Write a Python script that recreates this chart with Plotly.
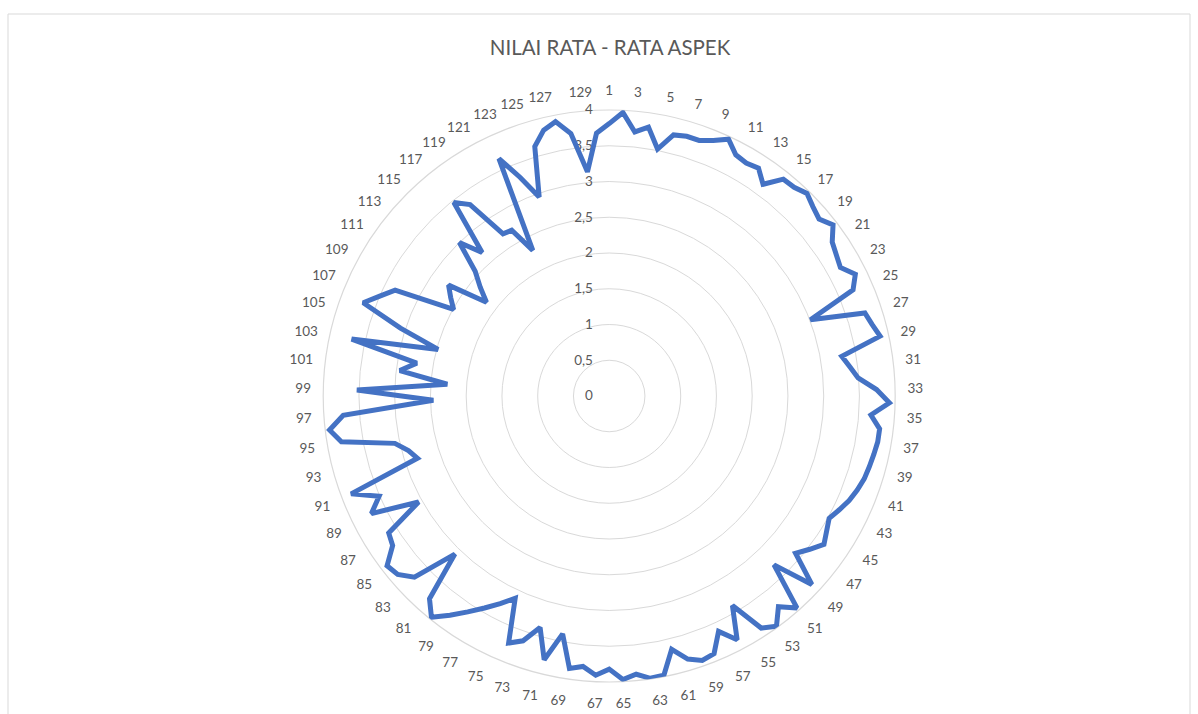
import plotly.graph_objects as go

categories = [str(i) for i in range(1, 131)]

values = [
    3.81, 3.97, 3.71, 3.80, 3.52, 3.76, 3.79, 3.79, 3.86, 3.96,   # 1-10
    3.81, 3.78, 3.81, 3.66, 3.89, 3.90, 3.96, 3.89, 3.84, 3.94,   # 11-20
    3.79, 3.74, 3.70, 3.84, 3.72, 3.01, 3.76, 3.81, 3.88, 3.30,   # 21-30
    3.39, 3.49, 3.74, 3.92, 3.67, 3.81, 3.81, 3.79, 3.77, 3.75,   # 31-40
    3.71, 3.66, 3.59, 3.52, 3.58, 3.65, 3.53, 3.41, 3.87, 3.30,   # 41-50
    3.96, 3.78, 3.98, 3.88, 3.40, 3.85, 3.63, 3.89, 3.92, 3.84,   # 51-60
    3.65, 3.98, 3.99, 3.91, 3.97, 3.82, 3.91, 3.80, 3.85, 3.39,   # 61-70
    3.80, 3.38, 3.63, 3.73, 3.12, 3.28, 3.44, 3.61, 3.79, 3.97,   # 71-80
    3.79, 3.09, 3.72, 3.87, 3.91, 3.68, 3.63, 3.05, 3.71, 3.51,   # 81-90
    3.86, 2.82, 2.91, 3.07, 3.80, 3.94, 3.73, 2.46, 3.53, 2.27,   # 91-100
    2.95, 2.73, 3.69, 2.48, 3.07, 3.68, 3.50, 3.34, 2.49, 2.61,   # 101-110
    2.73, 2.16, 2.36, 2.56, 3.00, 2.68, 3.47, 3.31, 2.71, 2.69,   # 111-120
    2.30, 3.66, 3.30, 2.95, 3.64, 3.83, 3.91, 3.71, 3.15, 3.68,   # 121-130
]

tick_labels = categories[::2]          # Excel shows every other category label
radial_ticks = [0, 0.5, 1, 1.5, 2, 2.5, 3, 3.5, 4]
title_text = "NILAI RATA - RATA ASPEK"

W, H = 1198, 714
cx, cy, R = 609.2, 396.0, 286.0
pad = "\u00a0" * 4

fig = go.Figure()
fig.add_trace(go.Scatterpolar(
    r=values + values[:1],
    theta=categories + categories[:1],
    mode="lines",
    line=dict(color="#4472C4", width=5),
    showlegend=False,
    hoverinfo="skip",
))

grey = "#595959"
gridc = "#D9D9D9"

fig.update_layout(
    width=W, height=H,
    margin=dict(l=0, r=0, t=0, b=0),
    paper_bgcolor="white",
    plot_bgcolor="white",
    separators=", ",
    font=dict(family="Lato, 'Open Sans', sans-serif", color=grey, size=13),
    title=dict(
        text=title_text,
        x=610 / W, xanchor="center",
        y=1 - 48 / H, yanchor="middle",
        font=dict(size=20.5, color=grey, family="Lato, 'Open Sans', sans-serif"),
    ),
    polar=dict(
        domain=dict(x=[(cx - R) / W, (cx + R) / W],
                    y=[(H - cy - R) / H, (H - cy + R) / H]),
        bgcolor="white",
        gridshape="circular",
        radialaxis=dict(
            range=[0, 4],
            tickvals=radial_ticks,
            ticktext=[("%g" % v).replace(".", ",") + pad for v in radial_ticks],
            angle=90,
            tickangle=90,
            side="counterclockwise",
            showline=False,
            ticks="",
            showgrid=True,
            gridcolor=gridc,
            gridwidth=1.2,
            tickfont=dict(size=13.5, color=grey),
            layer="below traces",
        ),
        angularaxis=dict(
            type="category",
            categoryorder="array",
            categoryarray=categories,
            direction="clockwise",
            rotation=90,
            tickmode="array",
            tickvals=tick_labels,
            ticktext=tick_labels,
            showgrid=False,
            showline=True,
            linecolor=gridc,
            linewidth=1.2,
            ticks="outside",
            ticklen=9,
            tickcolor="rgba(0,0,0,0)",
            tickfont=dict(size=13.5, color=grey),
            layer="below traces",
        ),
    ),
    shapes=[dict(
        type="rect", xref="paper", yref="paper",
        x0=8 / W, x1=1190 / W, y0=-0.05, y1=1 - 14 / H,
        line=dict(color=gridc, width=1), fillcolor="rgba(0,0,0,0)",
        layer="below",
    )],
)

fig.write_html("out.html", config={"displayModeBar": False},
               post_script="document.body.style.margin='0';")
